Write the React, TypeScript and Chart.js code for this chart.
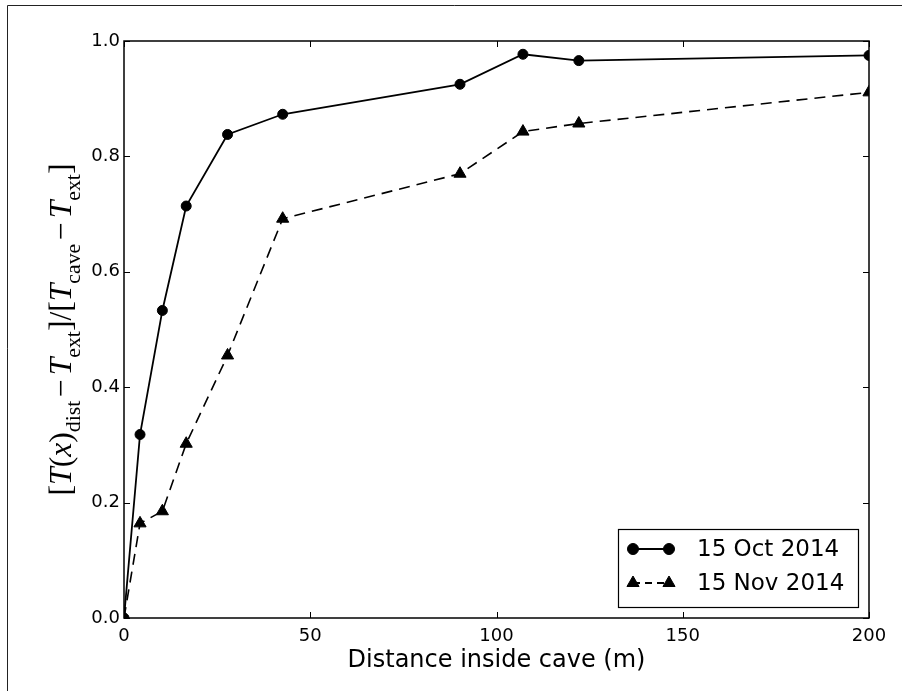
import React, { useEffect, useRef } from 'react';
import { Chart, registerables } from 'chart.js';

Chart.register(...registerables);

// ---- data ----
const distances = [0, 4.3, 10.3, 16.7, 27.8, 42.6, 90.2, 107.1, 122.1, 200];
const oct2014 = [0, 0.318, 0.533, 0.714, 0.838, 0.873, 0.925, 0.977, 0.966, 0.975];
const nov2014 = [0, 0.164, 0.185, 0.302, 0.455, 0.692, 0.77, 0.843, 0.857, 0.911];
const seriesLabels = ['15 Oct 2014', '15 Nov 2014'];
const xTickValues = [0, 50, 100, 150, 200];
const yTickValues = [0, 0.2, 0.4, 0.6, 0.8, 1.0];
const xTitle = 'Distance inside cave (m)';
const yTitleParts = [
  { text: '[', style: 'roman' },
  { text: 'T', style: 'italic' },
  { text: '(', style: 'roman' },
  { text: 'x', style: 'italic' },
  { text: ')', style: 'roman' },
  { text: 'dist', style: 'sub' },
  { text: '−', style: 'op' },
  { text: 'T', style: 'italic' },
  { text: 'ext', style: 'sub' },
  { text: ']/[', style: 'roman' },
  { text: 'T', style: 'italic' },
  { text: 'cave', style: 'sub' },
  { text: '−', style: 'op' },
  { text: 'T', style: 'italic' },
  { text: 'ext', style: 'sub' },
  { text: ']', style: 'roman' },
];

const SANS = '"DejaVu Sans", sans-serif';
const SERIF = '"Liberation Serif", "DejaVu Serif", serif';

function drawMarker(ctx: CanvasRenderingContext2D, kind: string, x: number, y: number) {
  ctx.save();
  ctx.fillStyle = '#000';
  ctx.strokeStyle = '#000';
  ctx.lineWidth = 1;
  ctx.setLineDash([]);
  ctx.beginPath();
  if (kind === 'circle') {
    ctx.arc(x, y, 5.5, 0, Math.PI * 2);
  } else {
    const r = 7;
    for (let i = 0; i < 3; i++) {
      const a = (i * 2 * Math.PI) / 3;
      const px = x + Math.sin(a) * r;
      const py = y - Math.cos(a) * r;
      if (i === 0) ctx.moveTo(px, py);
      else ctx.lineTo(px, py);
    }
    ctx.closePath();
  }
  ctx.fill();
  ctx.stroke();
  ctx.restore();
}

const decorPlugin = {
  id: 'decor',
  beforeDraw(chart: any) {
    const ctx = chart.ctx as CanvasRenderingContext2D;
    ctx.save();
    ctx.fillStyle = '#fff';
    ctx.fillRect(0, 0, chart.width, chart.height);
    // figure frame (top & left edges)
    ctx.strokeStyle = '#222';
    ctx.lineWidth = 1;
    ctx.beginPath();
    ctx.moveTo(7.5, chart.height);
    ctx.lineTo(7.5, 5.5);
    ctx.lineTo(chart.width, 5.5);
    ctx.stroke();
    ctx.restore();
  },
  afterDraw(chart: any) {
    const ctx = chart.ctx as CanvasRenderingContext2D;
    const { left, right, top, bottom } = chart.chartArea;
    const xs = chart.scales.x;
    const ys = chart.scales.y;
    ctx.save();
    // axes box
    ctx.strokeStyle = '#000';
    ctx.lineWidth = 1.5;
    ctx.strokeRect(left, top, right - left, bottom - top);
    // inward ticks on all four sides
    const tl = 6;
    ctx.lineWidth = 1;
    ctx.beginPath();
    xTickValues.forEach((v) => {
      const px = Math.round(xs.getPixelForValue(v)) + 0.5;
      ctx.moveTo(px, bottom);
      ctx.lineTo(px, bottom - tl);
      ctx.moveTo(px, top);
      ctx.lineTo(px, top + tl);
    });
    yTickValues.forEach((v) => {
      const py = Math.round(ys.getPixelForValue(v)) + 0.5;
      ctx.moveTo(left, py);
      ctx.lineTo(left + tl, py);
      ctx.moveTo(right, py);
      ctx.lineTo(right - tl, py);
    });
    ctx.stroke();

    // y-axis title (math-style with subscripts), fitted to the target length
    const targetLen = 332;
    const measureAll = (size: number) => {
      const subSize = size * 0.69;
      const fontFor = (style: string) =>
        style === 'italic'
          ? `italic ${size}px ${SERIF}`
          : style === 'sub'
          ? `${subSize}px ${SERIF}`
          : `${size}px ${SERIF}`;
      const widths = yTitleParts.map((p) => {
        ctx.font = fontFor(p.style);
        const w = ctx.measureText(p.text).width;
        return p.style === 'op' ? w + size * 0.12 * 2 : w;
      });
      return { fontFor, widths, total: widths.reduce((a, b) => a + b, 0) };
    };
    let size = 32;
    const first = measureAll(size);
    size = size * (targetLen / first.total);
    const m = measureAll(size);
    ctx.translate(71, (top + bottom) / 2);
    ctx.rotate(-Math.PI / 2);
    ctx.fillStyle = '#000';
    ctx.textBaseline = 'alphabetic';
    ctx.textAlign = 'left';
    let cx = -m.total / 2;
    yTitleParts.forEach((p, i) => {
      ctx.font = m.fontFor(p.style);
      const dy = p.style === 'sub' ? size * 0.3 : 0;
      const dx = p.style === 'op' ? size * 0.12 : 0;
      ctx.fillText(p.text, cx + dx, dy);
      cx += m.widths[i];
    });
    ctx.restore();

    // legend
    ctx.save();
    const lw = 240;
    const lh = 78;
    const lx = right - 11 - lw;
    const ly = bottom - 11 - lh;
    ctx.fillStyle = '#fff';
    ctx.fillRect(lx, ly, lw, lh);
    ctx.strokeStyle = '#000';
    ctx.lineWidth = 1.2;
    ctx.strokeRect(Math.round(lx) + 0.5, Math.round(ly) + 0.5, lw, lh);
    const kinds = ['circle', 'triangle'];
    const dashes = [[], [7, 5]];
    seriesLabels.forEach((label, i) => {
      const ry = ly + 20 + i * 34;
      const x1 = lx + 15;
      const x2 = lx + 51;
      ctx.strokeStyle = '#000';
      ctx.lineWidth = 1.8;
      ctx.setLineDash(dashes[i]);
      ctx.beginPath();
      ctx.moveTo(x1, ry);
      ctx.lineTo(x2, ry);
      ctx.stroke();
      ctx.setLineDash([]);
      drawMarker(ctx, kinds[i], x1, ry);
      drawMarker(ctx, kinds[i], x2, ry);
      ctx.fillStyle = '#000';
      ctx.font = `23px ${SANS}`;
      ctx.textBaseline = 'middle';
      ctx.textAlign = 'left';
      ctx.fillText(label, lx + 79, ry + 1);
    });
    ctx.restore();
  },
};

export default function App() {
  const canvasRef = useRef<HTMLCanvasElement | null>(null);

  useEffect(() => {
    document.body.style.margin = '0';
    const canvas = canvasRef.current;
    if (!canvas) return;
    const chart = new Chart(canvas, {
      type: 'line',
      data: {
        datasets: [
          {
            label: seriesLabels[0],
            data: distances.map((d, i) => ({ x: d, y: oct2014[i] })),
            borderColor: '#000',
            backgroundColor: '#000',
            borderWidth: 1.8,
            pointStyle: 'circle',
            pointRadius: 5,
            pointBorderWidth: 1,
            pointBackgroundColor: '#000',
            pointBorderColor: '#000',
            tension: 0,
          },
          {
            label: seriesLabels[1],
            data: distances.map((d, i) => ({ x: d, y: nov2014[i] })),
            borderColor: '#000',
            backgroundColor: '#000',
            borderWidth: 1.6,
            borderDash: [11, 7],
            pointStyle: 'triangle',
            pointRadius: 7,
            pointBorderWidth: 1,
            pointBackgroundColor: '#000',
            pointBorderColor: '#000',
            tension: 0,
          },
        ],
      },
      options: {
        animation: false,
        responsive: false,
        devicePixelRatio: 1,
        events: [],
        layout: { padding: { left: 0, top: 41, right: 33, bottom: 0 } },
        plugins: {
          legend: { display: false },
          tooltip: { enabled: false },
          title: { display: false },
        },
        scales: {
          x: {
            type: 'linear',
            min: 0,
            max: 200,
            afterBuildTicks: (s: any) => {
              s.ticks = xTickValues.map((v) => ({ value: v }));
            },
            afterFit: (s: any) => {
              s.height = 73;
            },
            grid: { display: false, drawTicks: false },
            border: { display: false },
            ticks: {
              autoSkip: false,
              maxRotation: 0,
              padding: 8,
              color: '#000',
              font: { family: SANS, size: 18 },
              callback: (v: any) => String(v),
            },
            title: {
              display: true,
              text: xTitle,
              color: '#000',
              font: { family: SANS, size: 24 },
              padding: { top: 0, bottom: 16 },
            },
          },
          y: {
            type: 'linear',
            min: 0,
            max: 1,
            afterBuildTicks: (s: any) => {
              s.ticks = yTickValues.map((v) => ({ value: v }));
            },
            afterFit: (s: any) => {
              s.width = 124;
            },
            grid: { display: false, drawTicks: false },
            border: { display: false },
            ticks: {
              autoSkip: false,
              padding: 4,
              color: '#000',
              font: { family: SANS, size: 18 },
              callback: (v: any) => Number(v).toFixed(1),
            },
          },
        },
      },
      plugins: [decorPlugin],
    });
    return () => chart.destroy();
  }, []);

  return (
    <div style={{ width: 902, height: 691 }}>
      <canvas ref={canvasRef} width={902} height={691} style={{ display: 'block', width: 902, height: 691 }} />
    </div>
  );
}
